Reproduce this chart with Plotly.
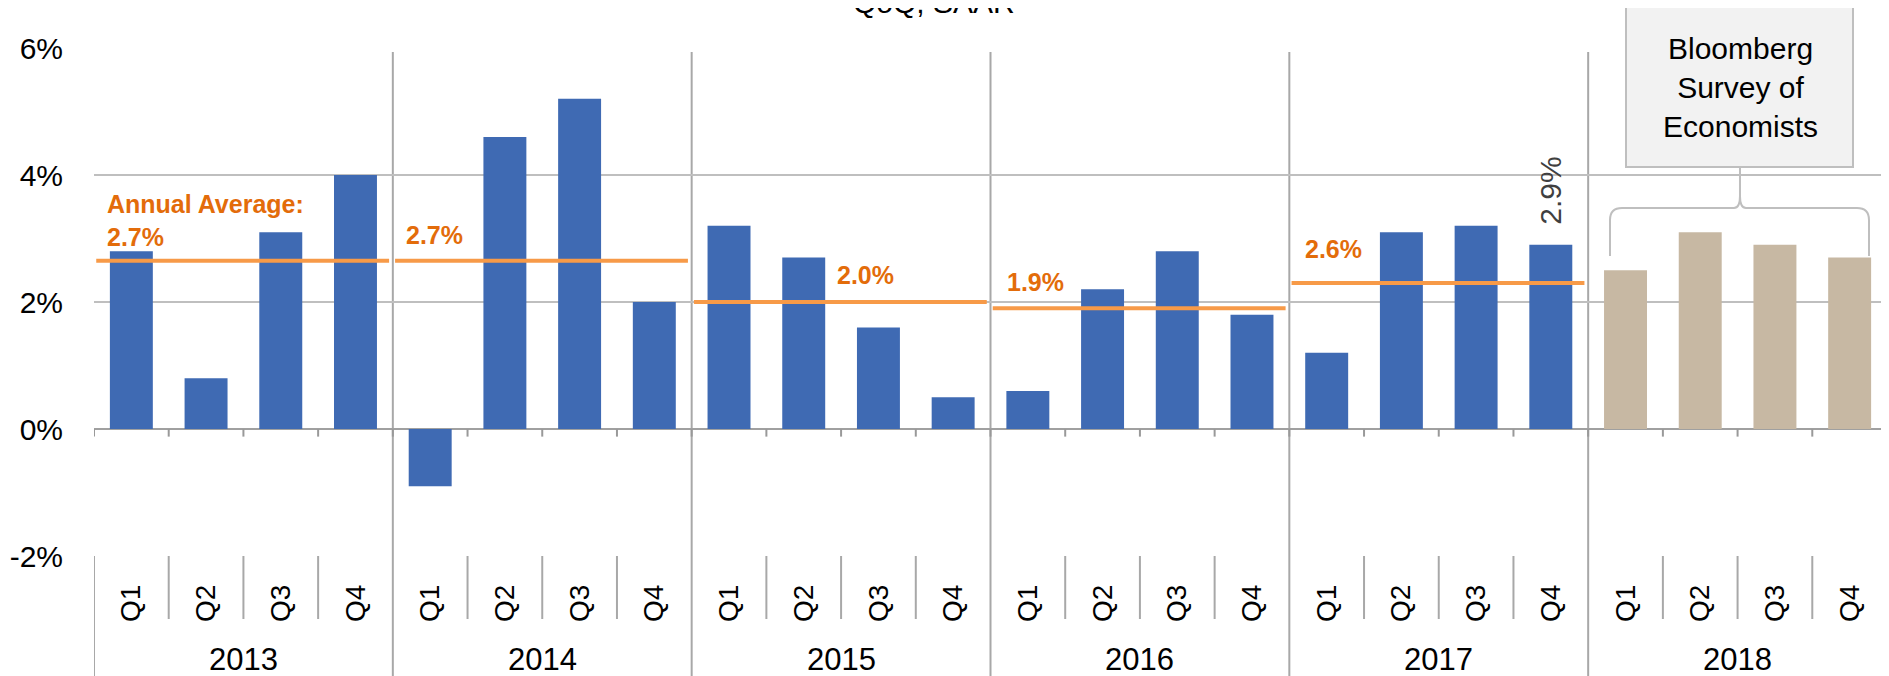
import plotly.graph_objects as go

# ---------------- data ----------------
years = ["2013", "2014", "2015", "2016", "2017", "2018"]
quarters = ["Q1", "Q2", "Q3", "Q4"]
actual_gdp = [2.8, 0.8, 3.1, 4.0,
              -0.9, 4.6, 5.2, 2.0,
              3.2, 2.7, 1.6, 0.5,
              0.6, 2.2, 2.8, 1.8,
              1.2, 3.1, 3.2, 2.9]
forecast_gdp = [2.5, 3.1, 2.9, 2.7]
annual_avg_line = [2.65, 2.65, 2.0, 1.9, 2.3]
annual_avg_label = ["2.7%", "2.7%", "2.0%", "1.9%", "2.6%"]
y_ticks = [-2, 0, 2, 4, 6]
y_tick_text = ["-2%", "0%", "2%", "4%", "6%"]
title_text = "QoQ, SAAR"
survey_text = "Bloomberg<br>Survey of<br>Economists"

# ---------------- geometry helpers (page pixels; page body has an 8px margin) ----------------
OFF = 8
W, H = 1889 - OFF, 676 - OFF
ML, MR, MT, MB = 94 - OFF, 2, 48 - OFF, 120
PW = W - ML - MR
PH = H - MT - MB


def pxx(px):
    return (px - OFF - ML) / PW


def pxy(py):
    return (H - MB - (py - OFF)) / PH


FONT = "Arial, Liberation Sans, sans-serif"
NARROW = "Arial Narrow, Liberation Sans Narrow, Arial, Liberation Sans, sans-serif"
BLUE = "#3F6AB3"
TAN = "#C7B8A3"
ORANGE_LINE = "#F79A48"
ORANGE_TEXT = "#E36C0A"
GRID = "#BFBFBF"
DIV = "#A8A8A8"

n_act = len(actual_gdp)
x_act = [i + 0.5 for i in range(n_act)]
x_fc = [n_act + i + 0.5 for i in range(len(forecast_gdp))]
n_all = n_act + len(forecast_gdp)

fig = go.Figure()
fig.add_trace(go.Bar(x=x_act, y=actual_gdp, width=0.575, marker=dict(color=BLUE, line=dict(width=0)),
                     showlegend=False, hoverinfo="y"))
fig.add_trace(go.Bar(x=x_fc, y=forecast_gdp, width=0.575, marker=dict(color=TAN, line=dict(width=0)),
                     showlegend=False, hoverinfo="y"))

# annual average lines
for k, v in enumerate(annual_avg_line):
    fig.add_trace(go.Scatter(x=[4 * k + 0.03, 4 * k + 3.95], y=[v, v], mode="lines",
                             line=dict(color=ORANGE_LINE, width=4), showlegend=False, hoverinfo="skip"))

shapes = []
# year dividers (through plot and label area)
for k in range(1, len(years)):
    shapes.append(dict(type="line", xref="x", yref="paper", x0=4 * k, x1=4 * k,
                       y0=pxy(680), y1=pxy(52), line=dict(color=DIV, width=2), layer="below"))
# outer borders of category label area
for xb in (0, n_all):
    shapes.append(dict(type="line", xref="x", yref="paper", x0=xb, x1=xb,
                       y0=pxy(680), y1=0, line=dict(color=DIV, width=2)))
# quarter dividers in label area
for i in range(1, n_all):
    if i % 4:
        shapes.append(dict(type="line", xref="x", yref="paper", x0=i, x1=i,
                           y0=pxy(619), y1=0, line=dict(color=DIV, width=2)))
# small ticks at zero line
for i in range(0, n_all + 1):
    shapes.append(dict(type="line", xref="x", yref="y", x0=i, x1=i,
                       y0=0, y1=-0.12, line=dict(color="#999999", width=2)))

# survey box
shapes.append(dict(type="rect", xref="paper", yref="paper",
                   x0=pxx(1626), x1=pxx(1853), y0=pxy(167), y1=pxy(7),
                   fillcolor="#F2F2F2", line=dict(color="#BFBFBF", width=2), layer="above"))


# curly bracket
def P(px, py):
    return f"{pxx(px):.5f},{pxy(py):.5f}"


cx = 1740
path = (f"M {P(1610, 256)} L {P(1610, 220)} Q {P(1610, 208)} {P(1622, 208)} "
        f"L {P(cx - 6, 208)} Q {P(cx, 208)} {P(cx, 196)} L {P(cx, 167)} "
        f"M {P(cx, 196)} Q {P(cx, 208)} {P(cx + 6, 208)} L {P(1857, 208)} "
        f"Q {P(1869, 208)} {P(1869, 220)} L {P(1869, 256)}")
shapes.append(dict(type="path", xref="paper", yref="paper", path=path,
                   line=dict(color="#BFBFBF", width=2)))

annotations = []
# year labels
for k, yr in enumerate(years):
    annotations.append(dict(x=4 * k + 2, y=pxy(659), xref="x", yref="paper", text=yr,
                            showarrow=False, font=dict(family=FONT, size=31, color="#000000"),
                            xanchor="center", yanchor="middle"))
# title (partially cut at top)
annotations.append(dict(x=pxx(934), y=pxy(3), xref="paper", yref="paper", text=title_text,
                        showarrow=False, font=dict(family=FONT, size=30, color="#000000"),
                        xanchor="center", yanchor="middle"))
# survey text
annotations.append(dict(x=pxx(1740), y=pxy(88), xref="paper", yref="paper", text=survey_text,
                        showarrow=False, font=dict(family=FONT, size=30, color="#000000"),
                        xanchor="center", yanchor="middle", align="center"))
# average labels
label_pos = [(0.15, 3.29), (4.15, 3.05), (9.92, 2.42), (12.2, 2.32), (16.18, 2.84)]
for k, lab in enumerate(annual_avg_label):
    txt = ("Annual Average:<br>" + lab) if k == 0 else lab
    annotations.append(dict(x=label_pos[k][0], y=label_pos[k][1], xref="x", yref="y", text=f"<b>{txt}</b>",
                            showarrow=False, font=dict(family=NARROW, size=25, color=ORANGE_TEXT),
                            xanchor="left", yanchor="middle", align="left"))
# rotated data label on last actual bar
annotations.append(dict(x=x_act[-1], y=actual_gdp[-1], xref="x", yref="y", text=f"{actual_gdp[-1]:.1f}%",
                        textangle=-90, showarrow=False, yanchor="bottom", xanchor="center", yshift=18,
                        font=dict(family=FONT, size=30, color="#404040")))

fig.update_layout(
    width=W, height=H,
    margin=dict(l=ML, r=MR, t=MT, b=MB, autoexpand=False),
    paper_bgcolor="white", plot_bgcolor="white",
    barmode="overlay",
    shapes=shapes, annotations=annotations,
    xaxis=dict(range=[0, n_all], showgrid=False, zeroline=False, showline=False,
               tickmode="array", tickvals=x_act + x_fc, ticktext=quarters * len(years),
               tickangle=-90, ticks="", ticklabelstandoff=22, automargin=False,
               tickfont=dict(family=FONT, size=28, color="#000000"), fixedrange=True),
    yaxis=dict(range=[-2, 6], tickmode="array", tickvals=y_ticks, ticktext=y_tick_text,
               showgrid=True, gridcolor=GRID, gridwidth=2,
               zeroline=True, zerolinecolor="#A0A0A0", zerolinewidth=2,
               showline=False, ticks="", ticklabelstandoff=30, automargin=False,
               tickfont=dict(family=FONT, size=30, color="#000000"), fixedrange=True),
)

fig.write_html("out.html")
